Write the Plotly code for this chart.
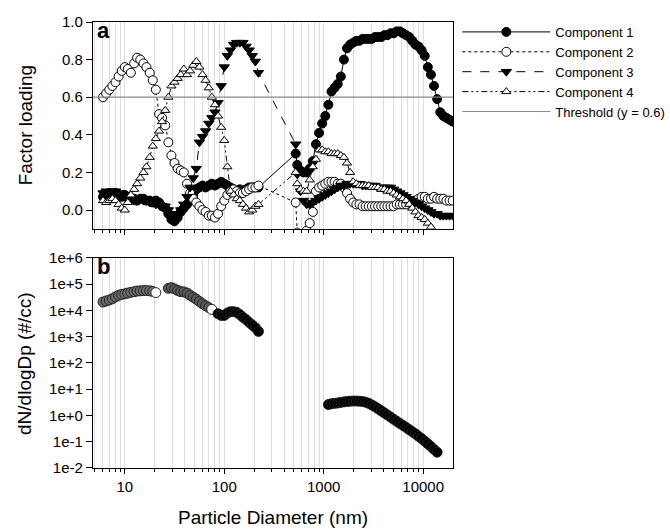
import plotly.graph_objects as go

# ---------------- data ----------------
smps_d = [6.04, 6.49, 6.98, 7.50, 8.06, 8.66, 9.31, 10.0, 10.7, 11.5, 12.4, 13.3, 14.3, 15.4,
          16.5, 17.8, 19.1, 20.5, 22.1, 23.7, 25.5, 27.4, 29.4, 31.6, 34.0, 36.5, 39.2, 42.2,
          45.3, 48.7, 52.3, 56.2, 60.4, 64.9, 69.8, 75.0, 80.6, 86.6, 93.1, 100.0, 107.5,
          115.5, 124.1, 133.4, 143.3, 154.0, 165.5, 177.8, 191.1, 205.4, 220.7]
aps_d = [523, 542, 583, 626, 673, 723, 777, 835, 898, 965, 1037, 1114, 1197, 1286, 1382,
         1486, 1596, 1715, 1843, 1981, 2129, 2288, 2458, 2642, 2839, 3051, 3278, 3523, 3786,
         4068, 4371, 4698, 5048, 5425, 5829, 6264, 6732, 7234, 7774, 8354, 8977, 9647, 10370,
         11140, 11970, 12860, 13820, 14860, 15960, 17150, 18430, 19810]

comp1_smps = [0.07, 0.08, 0.09, 0.08, 0.09, 0.08, 0.07, 0.08, 0.07, 0.06, 0.06, 0.05, 0.06,
              0.06, 0.05, 0.05, 0.04, 0.05, 0.04, 0.02, 0.01, -0.02, -0.05, -0.06, -0.04,
              -0.01, 0.01, 0.03, 0.05, 0.08, 0.11, 0.12, 0.13, 0.12, 0.13, 0.14, 0.13, 0.14,
              0.15, 0.14, 0.13, 0.12, 0.11, 0.10, 0.11, 0.10, 0.11, 0.12, 0.12, 0.12, 0.12]
comp1_aps = [0.30, 0.24, 0.21, 0.20, 0.20, 0.22, 0.26, 0.35, 0.41, 0.46, 0.50, 0.56, 0.63,
             0.65, 0.67, 0.71, 0.80, 0.86, 0.88, 0.89, 0.90, 0.90, 0.91, 0.91, 0.91, 0.91,
             0.92, 0.92, 0.92, 0.93, 0.93, 0.94, 0.94, 0.95, 0.95, 0.94, 0.93, 0.92, 0.90,
             0.88, 0.87, 0.85, 0.82, 0.76, 0.72, 0.66, 0.59, 0.52, 0.50, 0.49, 0.48, 0.47]

comp2_smps = [0.60, 0.62, 0.64, 0.66, 0.68, 0.71, 0.74, 0.76, 0.75, 0.73, 0.78, 0.81, 0.80,
              0.78, 0.76, 0.73, 0.69, 0.64, 0.51, 0.49, 0.45, 0.36, 0.29, 0.25, 0.22, 0.21,
              0.20, 0.14, 0.09, 0.06, 0.04, 0.02, 0.00, -0.01, -0.03, -0.03, -0.04, -0.02,
              0.02, 0.05, 0.08, 0.10, 0.11, 0.10, 0.09, 0.09, 0.10, 0.11, 0.12, 0.12, 0.13]
comp2_aps = [0.04, -0.12, -0.15, -0.14, -0.11, -0.07, -0.01, 0.10, 0.12, 0.13, 0.14, 0.15,
             0.15, 0.15, 0.14, 0.14, 0.12, 0.09, 0.06, 0.04, 0.03, 0.03, 0.02, 0.02, 0.02,
             0.02, 0.02, 0.02, 0.02, 0.02, 0.02, 0.02, 0.02, 0.03, 0.03, 0.03, 0.03, 0.04,
             0.04, 0.05, 0.06, 0.07, 0.07, 0.06, 0.06, 0.07, 0.06, 0.06, 0.06, 0.05, 0.05, 0.05]

comp3_smps = [0.09, 0.10, 0.09, 0.10, 0.10, 0.09, 0.08, 0.07, 0.06, 0.06, 0.05, 0.05, 0.06,
              0.05, 0.05, 0.04, 0.04, 0.03, 0.03, 0.02, 0.02, 0.00, -0.02, -0.03, -0.02,
              0.00, 0.03, 0.07, 0.12, 0.17, 0.22, 0.36, 0.39, 0.42, 0.46, 0.49, 0.52, 0.57,
              0.66, 0.76, 0.82, 0.85, 0.88, 0.89, 0.89, 0.89, 0.87, 0.85, 0.82, 0.79, 0.73]
comp3_aps = [0.35, 0.19, 0.10, 0.05, 0.03, 0.03, 0.04, 0.05, 0.06, 0.07, 0.08, 0.09, 0.10,
             0.11, 0.12, 0.13, 0.13, 0.14, 0.14, 0.14, 0.14, 0.14, 0.13, 0.13, 0.13, 0.13,
             0.13, 0.12, 0.12, 0.12, 0.12, 0.12, 0.11, 0.10, 0.09, 0.08, 0.07, 0.06, 0.05,
             0.04, 0.03, 0.02, 0.01, 0.00, -0.01, -0.02, -0.02, -0.03, -0.03, -0.03, -0.03, -0.03]

comp4_smps = [0.05, 0.04, 0.05, 0.06, 0.05, 0.03, 0.01, 0.00, 0.04, 0.08, 0.11, 0.14, 0.17,
              0.20, 0.23, 0.28, 0.34, 0.38, 0.42, 0.47, 0.53, 0.60, 0.66, 0.68, 0.70, 0.72,
              0.75, 0.72, 0.74, 0.77, 0.79, 0.76, 0.72, 0.69, 0.65, 0.60, 0.56, 0.50, 0.44,
              0.37, 0.23, 0.10, 0.08, 0.06, 0.05, 0.03, 0.01, -0.01, 0.00, 0.02, 0.03]
comp4_aps = [0.20, 0.14, 0.11, 0.10, 0.10, 0.16, 0.23, 0.27, 0.32, 0.32, 0.31, 0.31, 0.30,
             0.30, 0.30, 0.29, 0.28, 0.25, 0.20, 0.15, 0.14, 0.13, 0.13, 0.13, 0.13, 0.12,
             0.12, 0.12, 0.11, 0.11, 0.10, 0.10, 0.09, 0.08, 0.07, 0.06, 0.05, 0.03, 0.01,
             -0.01, -0.03, -0.04, -0.05, -0.07, -0.09]

threshold = 0.6

# panel b: number size distribution
nb_d1 = smps_d[0:18]
nb_v1 = [2.1e4, 2.3e4, 2.5e4, 2.8e4, 3.3e4, 3.8e4, 4.1e4, 4.3e4, 4.6e4, 4.9e4, 5.2e4,
         5.5e4, 5.6e4, 5.7e4, 5.7e4, 5.6e4, 5.3e4, 4.8e4]
nb_d2 = smps_d[21:36]
nb_v2 = [7.0e4, 7.4e4, 6.6e4, 5.8e4, 5.2e4, 5.1e4, 4.6e4, 3.8e4, 3.2e4, 2.7e4, 2.2e4,
         1.8e4, 1.5e4, 1.3e4, 1.1e4]
nb_d3 = smps_d[37:51]
nb_v3 = [7.5e3, 6.5e3, 6.5e3, 8.0e3, 9.0e3, 9.0e3, 8.5e3, 7.0e3, 5.5e3, 4.5e3, 3.5e3,
         2.8e3, 2.2e3, 1.6e3]
nb_d4 = aps_d[11:47]
nb_v4 = [2.6, 2.8, 2.9, 3.0, 3.15, 3.3, 3.4, 3.5, 3.55, 3.55, 3.5, 3.4, 3.2, 2.9, 2.5,
         2.15, 1.8, 1.5, 1.26, 1.05, 0.87, 0.72, 0.60, 0.50, 0.42, 0.35, 0.29, 0.24, 0.20,
         0.162, 0.132, 0.105, 0.083, 0.066, 0.051, 0.040]

ytick_b_vals = [1e-2, 1e-1, 1e0, 1e1, 1e2, 1e3, 1e4, 1e5, 1e6]
ytick_b_text = ["1e-2", "1e-1", "1e+0", "1e+1", "1e+2", "1e+3", "1e+4", "1e+5", "1e+6"]
xtick_vals = [10, 100, 1000, 10000]
xtick_text = ["10", "100", "1000", "10000"]
xminor_vals = [5, 6, 7, 8, 9, 20, 30, 40, 50, 60, 70, 80, 90, 200, 300, 400, 500, 600, 700,
               800, 900, 2000, 3000, 4000, 5000, 6000, 7000, 8000, 9000]

# ---------------- figure ----------------
FONT = "Liberation Sans, Arial, sans-serif"
fig = go.Figure()

comps = [
    ("Component 1", comp1_smps, comp1_aps, "circle", "solid", 9),
    ("Component 2", comp2_smps, comp2_aps, "circle-open", "dot", 9),
    ("Component 3", comp3_smps, comp3_aps, "triangle-down", "dash", 9),
    ("Component 4", comp4_smps, comp4_aps, "triangle-up-open", "6px,3px,2px,3px,2px,3px", 8),
]
for name, vs, va, sym, dash, ms in comps:
    xs = smps_d + aps_d[:len(va)]
    ys = vs + va
    if sym.endswith("-open"):
        marker = dict(symbol=sym.replace("-open", ""), size=ms, color="white",
                      line=dict(color="black", width=1))
    else:
        marker = dict(symbol=sym, size=ms, color="black", line=dict(color="black", width=1))
    fig.add_trace(go.Scatter(x=xs, y=ys, mode="lines+markers", name=name,
                             line=dict(color="black", width=1, dash=dash),
                             marker=marker, xaxis="x", yaxis="y"))

fig.add_trace(go.Scatter(x=[4.5, 21000], y=[threshold, threshold], mode="lines",
                         name="Threshold (y = 0.6)", line=dict(color="#8a8a8a", width=1.2),
                         xaxis="x", yaxis="y"))

def seg(d, v, fill, last_open):
    cols = [fill] * len(v)
    if last_open:
        cols[-1] = "white"
    fig.add_trace(go.Scatter(x=d, y=v, mode="markers", showlegend=False,
                             marker=dict(symbol="circle", size=10, color=cols,
                                         line=dict(color="#222", width=1)),
                             xaxis="x2", yaxis="y2"))

seg(nb_d1, nb_v1, "#6e6e6e", True)
seg(nb_d2, nb_v2, "#5a5a5a", True)
seg(nb_d3, nb_v3, "black", False)
seg(nb_d4, nb_v4, "black", False)

grid = "#dedede"
xcommon = dict(type="log", range=[0.68, 4.30], showline=True, linecolor="black", linewidth=1.3,
               mirror=True, ticks="outside", ticklen=5, tickcolor="black", tickwidth=1.2,
               tickmode="array", tickvals=xtick_vals, ticktext=xtick_text, showgrid=True,
               gridcolor=grid, gridwidth=1, zeroline=False,
               minor=dict(tickmode="array", tickvals=xminor_vals, ticks="outside", ticklen=3,
                          tickcolor="black", tickwidth=1, showgrid=True, gridcolor=grid,
                          gridwidth=1),
               tickfont=dict(family=FONT, size=15, color="black"))

fig.update_layout(
    width=670, height=530,
    margin=dict(l=93, r=217, t=22, b=62, autoexpand=False),
    paper_bgcolor="white", plot_bgcolor="white",
    font=dict(family=FONT, color="black"),
    xaxis=dict(**xcommon, anchor="y", showticklabels=False, matches="x2"),
    xaxis2=dict(**xcommon, anchor="y2", showticklabels=True),
    yaxis=dict(domain=[0.5363, 1.0], range=[-0.1, 1.0], tickvals=[0, 0.2, 0.4, 0.6, 0.8, 1.0],
               tickformat=".1f", showline=True, linecolor="black", linewidth=1.3, mirror=True,
               ticks="outside", ticklen=6, tickwidth=1.2, tickcolor="black", showgrid=False,
               zeroline=False, tickfont=dict(family=FONT, size=15, color="black"), anchor="x"),
    yaxis2=dict(domain=[0.0, 0.4709], type="log", range=[-2, 6], tickvals=ytick_b_vals,
                ticktext=ytick_b_text, showline=True, linecolor="black", linewidth=1.3,
                mirror=True, ticks="outside", ticklen=6, tickwidth=1.2, tickcolor="black",
                showgrid=False, zeroline=False,
                tickfont=dict(family=FONT, size=15, color="black"), anchor="x2"),
    legend=dict(x=1.012, y=0.888, xanchor="left", yanchor="middle",
                font=dict(family=FONT, size=13, color="black"), itemwidth=88,
                bgcolor="rgba(0,0,0,0)", tracegroupgap=0),
    showlegend=True,
    annotations=[
        dict(text="<b>a</b>", xref="x domain", yref="y domain", x=0.005, y=1.03,
             xanchor="left", yanchor="top", showarrow=False,
             font=dict(family=FONT, size=22, color="black")),
        dict(text="<b>b</b>", xref="x2 domain", yref="y2 domain", x=0.005, y=1.03,
             xanchor="left", yanchor="top", showarrow=False,
             font=dict(family=FONT, size=22, color="black")),
        dict(text="Factor loading", xref="paper", yref="y domain", x=-0.189, y=0.5,
             xanchor="center", yanchor="middle", textangle=-90, showarrow=False,
             font=dict(family=FONT, size=19, color="black")),
        dict(text="dN/dlogDp (#/cc)", xref="paper", yref="y2 domain", x=-0.189, y=0.5,
             xanchor="center", yanchor="middle", textangle=-90, showarrow=False,
             font=dict(family=FONT, size=19, color="black")),
        dict(text="Particle Diameter (nm)", xref="x2 domain", yref="paper", x=0.5, y=-0.11,
             xanchor="center", yanchor="middle", showarrow=False,
             font=dict(family=FONT, size=19, color="black")),
    ],
)

fig.write_html("out.html")
